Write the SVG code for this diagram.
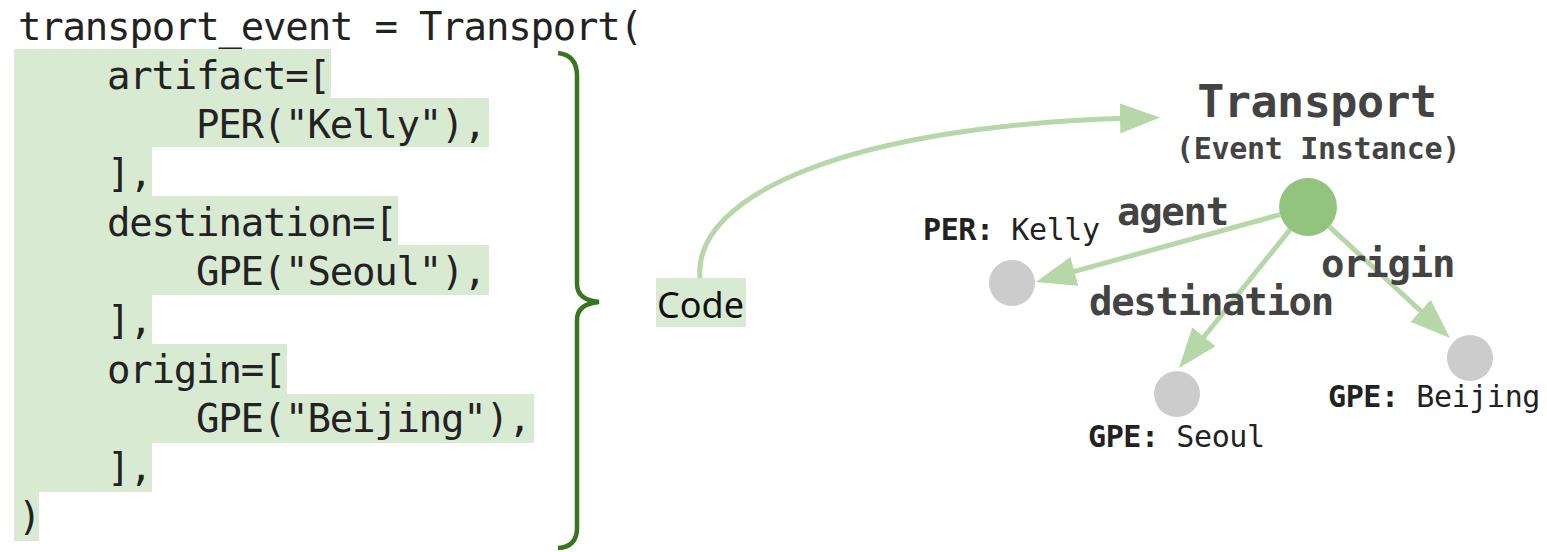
<svg xmlns="http://www.w3.org/2000/svg" width="1547" height="552" viewBox="0 0 1547 552">
<style>
.code{font-family:"DejaVu Sans Mono",monospace;font-size:39px;letter-spacing:-1.2px;fill:#222}
.hl{fill:#d9ead3}
.edge{fill:none;stroke:#b6d7a8;stroke-width:5}
.title{font-family:"DejaVu Sans Mono",monospace;font-weight:bold;fill:#434343}
.elabel{font-family:"DejaVu Sans Mono",monospace;font-weight:bold;font-size:39px;letter-spacing:-1.3px;fill:#434343}
.nlabel{font-family:"DejaVu Sans Mono",monospace;font-size:30px;letter-spacing:-0.4px;fill:#222}
.gray{fill:#cccccc}
</style>
<defs>
<marker id="arr" markerWidth="8" markerHeight="6" refX="3" refY="3" orient="auto" markerUnits="strokeWidth">
<path d="M0,0 L8,3 L0,6 z" fill="#b6d7a8"/>
</marker>
</defs>
<g id="code">
<rect class="hl" x="14" y="49" width="317" height="49"/>
<rect class="hl" x="14" y="98" width="475" height="49"/>
<rect class="hl" x="14" y="147" width="138" height="49"/>
<rect class="hl" x="14" y="196" width="384" height="49"/>
<rect class="hl" x="14" y="245" width="475" height="50"/>
<rect class="hl" x="14" y="295" width="138" height="49"/>
<rect class="hl" x="14" y="344" width="273" height="50"/>
<rect class="hl" x="14" y="394" width="520" height="49"/>
<rect class="hl" x="14" y="443" width="138" height="49"/>
<rect class="hl" x="14" y="492" width="25" height="49"/>
<text class="code" x="18" y="40">transport_event = Transport(</text>
<text class="code" x="107" y="89">artifact=[</text>
<text class="code" x="196" y="138">PER("Kelly"),</text>
<text class="code" x="107" y="187">],</text>
<text class="code" x="107" y="236">destination=[</text>
<text class="code" x="196" y="285">GPE("Seoul"),</text>
<text class="code" x="107" y="334">],</text>
<text class="code" x="107" y="383">origin=[</text>
<text class="code" x="196" y="432">GPE("Beijing"),</text>
<text class="code" x="107" y="481">],</text>
<text class="code" x="18" y="530">)</text>
</g>
<g id="brace">
<path d="M558,53 Q577,55 577,76 L577,284 Q577,300 599,302 Q577,304 577,320 L577,528 Q577,547 558,548" fill="none" stroke="#38761d" stroke-width="4.5"/>
</g>
<g id="code-label">
<rect class="hl" x="656" y="278" width="90" height="49"/>
<text x="657" y="318" font-family="'Noto Sans',sans-serif" font-size="36" fill="#111">Code</text>
</g>
<g id="connectors">
<path class="edge" d="M700,278 C692,195 850,125 1135,118" marker-end="url(#arr)"/>
<line class="edge" x1="1280" y1="214.7" x2="1060" y2="275.4" marker-end="url(#arr)"/>
<line class="edge" x1="1290" y1="229.6" x2="1194.6" y2="348.5" marker-end="url(#arr)"/>
<line class="edge" x1="1329.3" y1="226.7" x2="1431.6" y2="321" marker-end="url(#arr)"/>
<text class="elabel" x="1117" y="225">agent</text>
<text class="elabel" x="1089" y="315">destination</text>
<text class="elabel" x="1321" y="277">origin</text>
</g>
<g id="event">
<text class="title" x="1317" y="117" font-size="45" letter-spacing="-0.5" text-anchor="middle">Transport</text>
<text class="title" x="1318" y="159" font-size="30" letter-spacing="-0.3" text-anchor="middle">(Event Instance)</text>
<circle cx="1308" cy="207" r="29" fill="#93c47d"/>
</g>
<g id="kelly">
<circle class="gray" cx="1012" cy="283" r="23"/>
<text class="nlabel" x="923" y="240"><tspan font-weight="bold">PER:</tspan> Kelly</text>
</g>
<g id="seoul">
<circle class="gray" cx="1177" cy="394" r="23"/>
<text class="nlabel" x="1088" y="447" fill="#434343"><tspan font-weight="bold">GPE:</tspan> Seoul</text>
</g>
<g id="beijing">
<circle class="gray" cx="1470" cy="358" r="23"/>
<text class="nlabel" x="1328" y="407"><tspan font-weight="bold">GPE:</tspan> Beijing</text>
</g>
</svg>
